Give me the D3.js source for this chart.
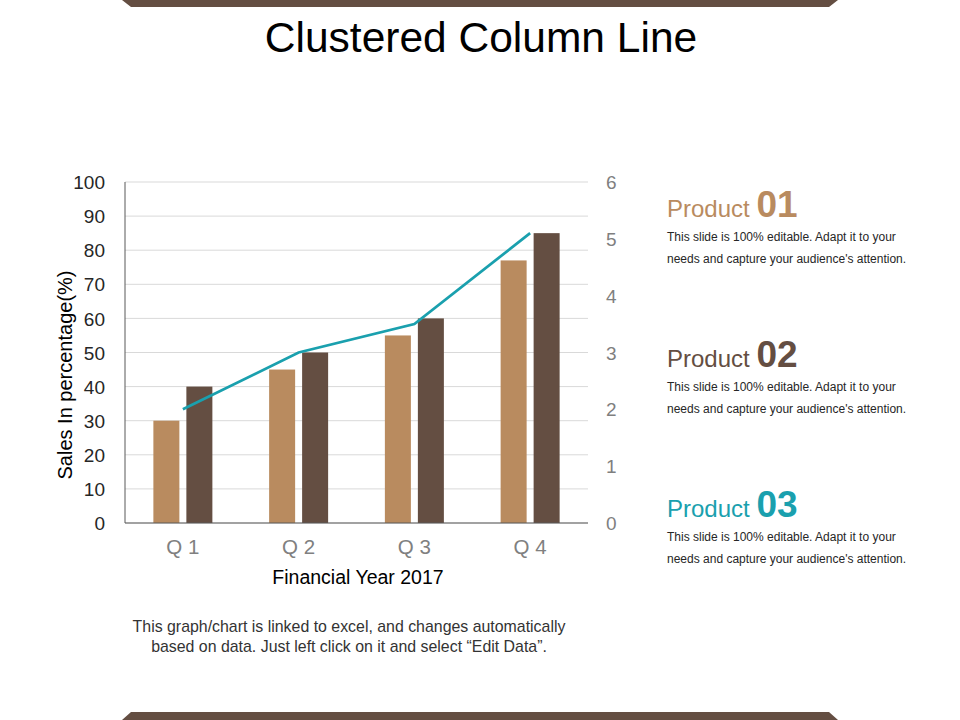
<!DOCTYPE html>
<html>
<head>
<meta charset="utf-8">
<script src="https://cdn.jsdelivr.net/npm/d3@7"></script>
<style>
  html, body { margin: 0; padding: 0; background: #fff; }
  svg { display: block; font-family: "Liberation Sans", Arial, sans-serif; }
</style>
</head>
<body>
<div id="chart"></div>
<script>
// Chart data
const quarters = ['Q 1', 'Q 2', 'Q 3', 'Q 4'];
const seriesNames = ['Product 01', 'Product 02'];
const product01 = [30, 45, 55, 77];
const product02 = [40, 50, 60, 85];
const product03 = [2, 3, 3.5, 5.1];
const leftTicks = [0, 10, 20, 30, 40, 50, 60, 70, 80, 90, 100];
const rightTicks = [0, 1, 2, 3, 4, 5, 6];

const colors = {
    light: '#B98B5F',
    dark: '#644E42',
    teal: '#1AA0AE'
};

const width = 960;
const height = 720;

const svg = d3.select('#chart')
    .append('svg')
    .attr('width', width)
    .attr('height', height);

// Decorative bars at top and bottom of the slide
svg.append('polygon')
    .attr('points', '122,0 838,0 829,7 131,7')
    .attr('fill', colors.dark);
svg.append('polygon')
    .attr('points', '131,712 829,712 838,720 122,720')
    .attr('fill', colors.dark);

// Title
svg.append('text')
    .attr('x', 481)
    .attr('y', 52)
    .attr('text-anchor', 'middle')
    .style('font-size', '42.5px')
    .style('fill', '#000')
    .text('Clustered Column Line');

// Plot area
const plot = { left: 125, right: 588, top: 182, bottom: 523 };

const x0 = d3.scaleBand()
    .domain(quarters)
    .range([plot.left, plot.right])
    .padding(0);

const x1 = d3.scaleBand()
    .domain(seriesNames)
    .range([0, x0.bandwidth()])
    .paddingInner(0.212)
    .paddingOuter(0.86);

const yLeft = d3.scaleLinear().domain([0, 100]).range([plot.bottom, plot.top]);
const yRight = d3.scaleLinear().domain([0, 6]).range([plot.bottom, plot.top]);

// Gridlines
svg.append('g')
    .selectAll('line')
    .data(leftTicks)
    .enter()
    .append('line')
    .attr('x1', plot.left)
    .attr('x2', plot.right)
    .attr('y1', d => yLeft(d))
    .attr('y2', d => yLeft(d))
    .attr('stroke', '#D9D9D9')
    .attr('stroke-width', 1);

// Bars
const rows = quarters.map((q, i) => ({ q, values: [product01[i], product02[i]] }));
const groups = svg.append('g')
    .selectAll('g')
    .data(rows)
    .enter()
    .append('g')
    .attr('transform', d => `translate(${x0(d.q)},0)`);

groups.selectAll('rect')
    .data(d => d.values.map((v, j) => ({ name: seriesNames[j], v })))
    .enter()
    .append('rect')
    .attr('x', d => x1(d.name))
    .attr('width', x1.bandwidth())
    .attr('y', d => yLeft(d.v))
    .attr('height', d => yLeft(0) - yLeft(d.v))
    .attr('fill', (d, j) => j === 0 ? colors.light : colors.dark);

// Axis lines
svg.append('line')
    .attr('x1', plot.left).attr('x2', plot.left)
    .attr('y1', plot.top).attr('y2', plot.bottom)
    .attr('stroke', '#595959').attr('stroke-width', 1);
svg.append('line')
    .attr('x1', plot.left).attr('x2', plot.right)
    .attr('y1', plot.bottom).attr('y2', plot.bottom)
    .attr('stroke', '#595959').attr('stroke-width', 1);

// Line series on secondary axis
const line = d3.line()
    .x((d, i) => x0(quarters[i]) + x0.bandwidth() / 2)
    .y(d => yRight(d));

svg.append('path')
    .datum(product03)
    .attr('d', line)
    .attr('fill', 'none')
    .attr('stroke', colors.teal)
    .attr('stroke-width', 2.75);

// Left axis labels
const leftAxis = d3.axisLeft(yLeft).tickValues(leftTicks).tickSize(0).tickPadding(20);
const gLeft = svg.append('g')
    .attr('transform', `translate(${plot.left},0)`)
    .call(leftAxis);
gLeft.select('.domain').remove();
gLeft.selectAll('text')
    .attr('dy', '0.35em')
    .style('font-size', '19px')
    .style('font-family', '"Liberation Sans", Arial, sans-serif')
    .style('fill', '#262626');

// Right axis labels
const rightAxis = d3.axisRight(yRight).tickValues(rightTicks).tickFormat(d3.format('d'))
    .tickSize(0).tickPadding(18);
const gRight = svg.append('g')
    .attr('transform', `translate(${plot.right},0)`)
    .call(rightAxis);
gRight.select('.domain').remove();
gRight.selectAll('text')
    .attr('dy', '0.35em')
    .style('font-size', '19px')
    .style('font-family', '"Liberation Sans", Arial, sans-serif')
    .style('fill', '#7F7F7F');

// Category labels
const bottomAxis = d3.axisBottom(x0).tickSize(0).tickPadding(16);
const gBottom = svg.append('g')
    .attr('transform', `translate(0,${plot.bottom})`)
    .call(bottomAxis);
gBottom.select('.domain').remove();
gBottom.selectAll('text')
    .style('font-size', '20.5px')
    .style('font-family', '"Liberation Sans", Arial, sans-serif')
    .style('fill', '#808080');

// Axis titles
svg.append('text')
    .attr('transform', 'translate(72,375) rotate(-90)')
    .attr('text-anchor', 'middle')
    .style('font-size', '20px')
    .style('fill', '#000')
    .text('Sales In percentage(%)');

svg.append('text')
    .attr('x', 358)
    .attr('y', 584)
    .attr('text-anchor', 'middle')
    .style('font-size', '19.5px')
    .style('fill', '#000')
    .text('Financial Year 2017');

// Footnote
const footLines = [
    'This graph/chart is linked to excel, and changes automatically',
    'based on data. Just left click on it and select \u201CEdit Data\u201D.'
];
svg.append('g')
    .selectAll('text')
    .data(footLines)
    .enter()
    .append('text')
    .attr('x', 349)
    .attr('y', (d, i) => 632 + i * 20)
    .attr('text-anchor', 'middle')
    .style('font-size', '15.9px')
    .style('fill', '#333')
    .text(d => d);

// Product descriptions
const products = [
    { num: '01', color: colors.light, y: 217 },
    { num: '02', color: colors.dark, y: 367 },
    { num: '03', color: colors.teal, y: 517 }
];
const descLines = [
    'This slide is 100% editable. Adapt it to your',
    "needs and capture your audience's attention."
];

products.forEach(p => {
    const t = svg.append('text')
        .attr('x', 667)
        .attr('y', p.y)
        .style('fill', p.color);
    t.append('tspan')
        .style('font-size', '24px')
        .text('Product ');
    t.append('tspan')
        .style('font-size', '37px')
        .style('font-weight', 'bold')
        .text(p.num);

    descLines.forEach((line, i) => {
        svg.append('text')
            .attr('x', 667)
            .attr('y', p.y + 24 + i * 22)
            .style('font-size', '12px')
            .style('fill', '#262626')
            .text(line);
    });
});
</script>
</body>
</html>
